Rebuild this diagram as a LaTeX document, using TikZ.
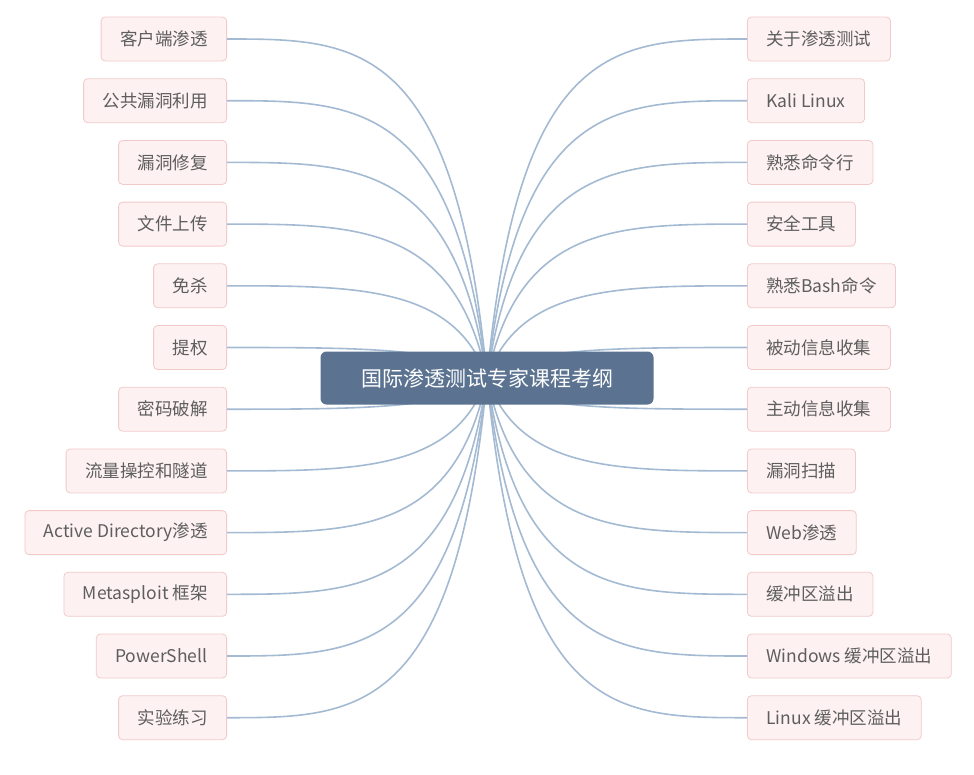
\documentclass[tikz,border=0pt]{standalone}
\usepackage{fontspec}
\setmainfont{Noto Sans CJK SC}
\definecolor{lineb}{HTML}{A3BAD2}
\definecolor{mainb}{HTML}{5B7391}
\definecolor{leaff}{HTML}{FDF1F1}
\definecolor{leafd}{HTML}{F2CACA}
\definecolor{leaft}{HTML}{5E5E5E}
\begin{document}
\begin{tikzpicture}[x=1pt,y=-1pt,
  leaf/.style={draw=leafd, fill=leaff, rounded corners=4pt, line width=0.8pt, minimum height=44pt, inner xsep=19pt, text=leaft, font=\fontsize{17.5}{19}\selectfont},
  conn/.style={draw=lineb, line width=1.6pt}]
\useasboundingbox (0,0) rectangle (974,774);
\coordinate (c) at (487,378);
\foreach \t [count=\i] in {客户端渗透,公共漏洞利用,漏洞修复,文件上传,免杀,提权,密码破解,流量操控和隧道,Active Directory渗透,Metasploit 框架,PowerShell,实验练习}{
  \pgfmathsetmacro{\yy}{39+61.7*(\i-1)}
  \node[leaf, anchor=east] (l\i) at (227,\yy) {\t};
  \draw[conn] (c) .. controls (455,\yy) and (357,\yy) .. (l\i.east);
}
\foreach \t [count=\i] in {关于渗透测试,Kali Linux,熟悉命令行,安全工具,熟悉Bash命令,被动信息收集,主动信息收集,漏洞扫描,Web渗透,缓冲区溢出,Windows 缓冲区溢出,Linux 缓冲区溢出}{
  \pgfmathsetmacro{\yy}{39+61.7*(\i-1)}
  \node[leaf, anchor=west] (r\i) at (747,\yy) {\t};
  \draw[conn] (c) .. controls (519,\yy) and (617,\yy) .. (r\i.west);
}
\node[fill=mainb, rounded corners=6pt, minimum width=333pt, minimum height=53pt, text=white, font=\fontsize{21}{24}\selectfont] (m) at (c) {国际渗透测试专家课程考纲};
\end{tikzpicture}
\end{document}
